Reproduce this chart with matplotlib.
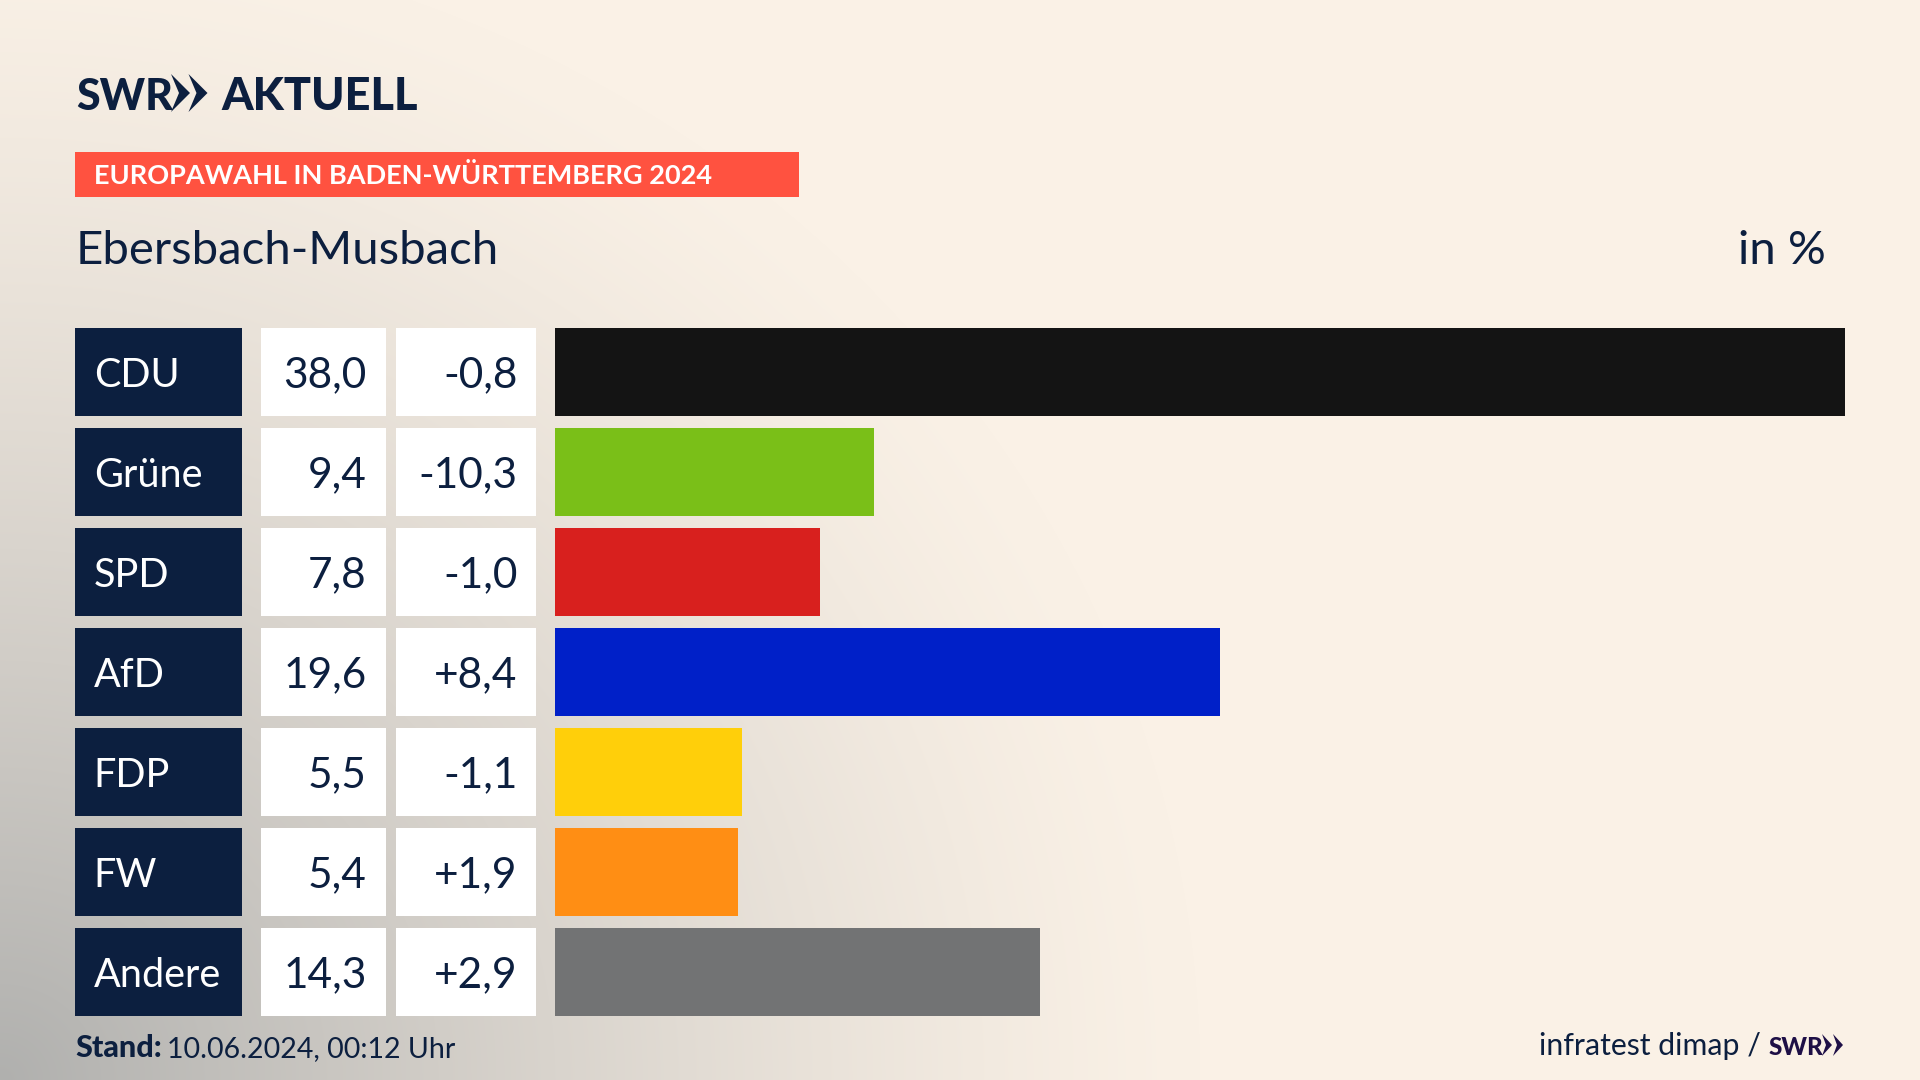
import numpy as np
import matplotlib.pyplot as plt
from matplotlib.patches import Polygon

parties = ['CDU', 'Grüne', 'SPD', 'AfD', 'FDP', 'FW', 'Andere']
shares = [38.0, 9.4, 7.8, 19.6, 5.5, 5.4, 14.3]
changes = [-0.8, -10.3, -1.0, 8.4, -1.1, 1.9, 2.9]
colors = ['#141414', '#7abf18', '#d8201e', '#0020c8', '#ffcf0a', '#ff8e14', '#727374']

NAVY = '#0c1f3f'
PURPLE = '#1e0f46'
W, H = 1920, 1080

plt.rcParams['font.family'] = ['Lato', 'DejaVu Sans']


def de(value, sign=False):
    fmt = '{:+.1f}' if sign else '{:.1f}'
    return fmt.format(value).replace('.', ',')


def px_axes(fig, x0, x1, y0, y1):
    # y0, y1 counted from the top of the image
    return fig.add_axes([x0 / W, 1 - y1 / H, (x1 - x0) / W, (y1 - y0) / H])


def row_axes(fig, x0, x1):
    ax = px_axes(fig, x0, x1, 322, 1022)
    ax.set_ylim(6.5, -0.5)
    ax.axis('off')
    ax.patch.set_alpha(0)
    return ax


def main():
    fig = plt.figure(figsize=(W / 100, H / 100), dpi=100)

    # background glow from the lower left corner
    bg = fig.add_axes([0, 0, 1, 1])
    yy, xx = np.mgrid[0:H, 0:W]
    d = np.sqrt((xx / 1200) ** 2 + ((H - yy) / 1150) ** 2)
    t = np.clip(1 - d, 0, 1) ** 1.3
    cream = np.array([250, 241, 230]) / 255
    grey = np.array([176, 176, 174]) / 255
    img = cream + (grey - cream) * t[..., None]
    bg.imshow(img, aspect='auto', extent=(0, W, H, 0), interpolation='bilinear')
    bg.set_xlim(0, W)
    bg.set_ylim(H, 0)
    bg.axis('off')

    # header
    bg.text(76, 110, 'SWR', fontsize=31, fontweight='black', color=NAVY, va='baseline')
    bg.text(221, 110, 'AKTUELL', fontsize=32.5, fontweight='black', color=NAVY, va='baseline')
    for x in (171, 188.5):
        bg.add_patch(Polygon([(x, 74), (x + 19, 93), (x, 112), (x + 8, 93)], color=NAVY, lw=0))
    bg.add_patch(plt.Rectangle((75, 152), 723.5, 45, color='#ff5240', lw=0))
    bg.text(94, 184.5, 'EUROPAWAHL IN BADEN-WÜRTTEMBERG 2024', fontsize=19.5,
            fontweight='bold', color='white', va='baseline')
    bg.text(76, 264, 'Ebersbach-Musbach', fontsize=34, color=NAVY, va='baseline')
    bg.text(1826, 264, 'in %', fontsize=34, color=NAVY, va='baseline', ha='right')

    # table and bars
    y = np.arange(len(parties))
    ax_name = row_axes(fig, 75, 242)
    ax_name.barh(y, [1] * len(y), height=0.885, color=NAVY)
    ax_name.set_xlim(0, 1)
    ax_val = row_axes(fig, 261, 386)
    ax_val.barh(y, [1] * len(y), height=0.885, color='white')
    ax_val.set_xlim(0, 1)
    ax_chg = row_axes(fig, 396, 536)
    ax_chg.barh(y, [1] * len(y), height=0.885, color='white')
    ax_chg.set_xlim(0, 1)
    ax_bar = row_axes(fig, 555, 1845)
    ax_bar.barh(y, shares, height=0.885, color=colors)
    ax_bar.set_xlim(0, 38)

    for i in y:
        ax_name.annotate(parties[i], (0, i), xytext=(13.5, 0), textcoords='offset points',
                         fontsize=28.5, color='white', va='center_baseline')
        ax_val.annotate(de(shares[i]), (1, i), xytext=(-14, 0), textcoords='offset points',
                        fontsize=30.5, color=NAVY, va='center_baseline', ha='right')
        ax_chg.annotate(de(changes[i], True), (1, i), xytext=(-13.5, 0), textcoords='offset points',
                        fontsize=30.5, color=NAVY, va='center_baseline', ha='right')

    # footer
    bg.text(75, 1057, 'Stand:', fontsize=22, fontweight='black', color=NAVY, va='baseline')
    bg.text(167, 1057, '10.06.2024, 00:12 Uhr', fontsize=20.5, color=NAVY, va='baseline')
    bg.text(1539, 1055, 'infratest dimap /', fontsize=21.8, color=NAVY, va='baseline')
    bg.text(1769, 1055, 'SWR', fontsize=17.5, fontweight='black', color=PURPLE, va='baseline')
    for x in (1822, 1833):
        bg.add_patch(Polygon([(x, 1034), (x + 10, 1045), (x, 1056), (x + 4, 1045)],
                             color=PURPLE, lw=0))

    fig.savefig('out.png', dpi=100)


if __name__ == '__main__':
    main()
